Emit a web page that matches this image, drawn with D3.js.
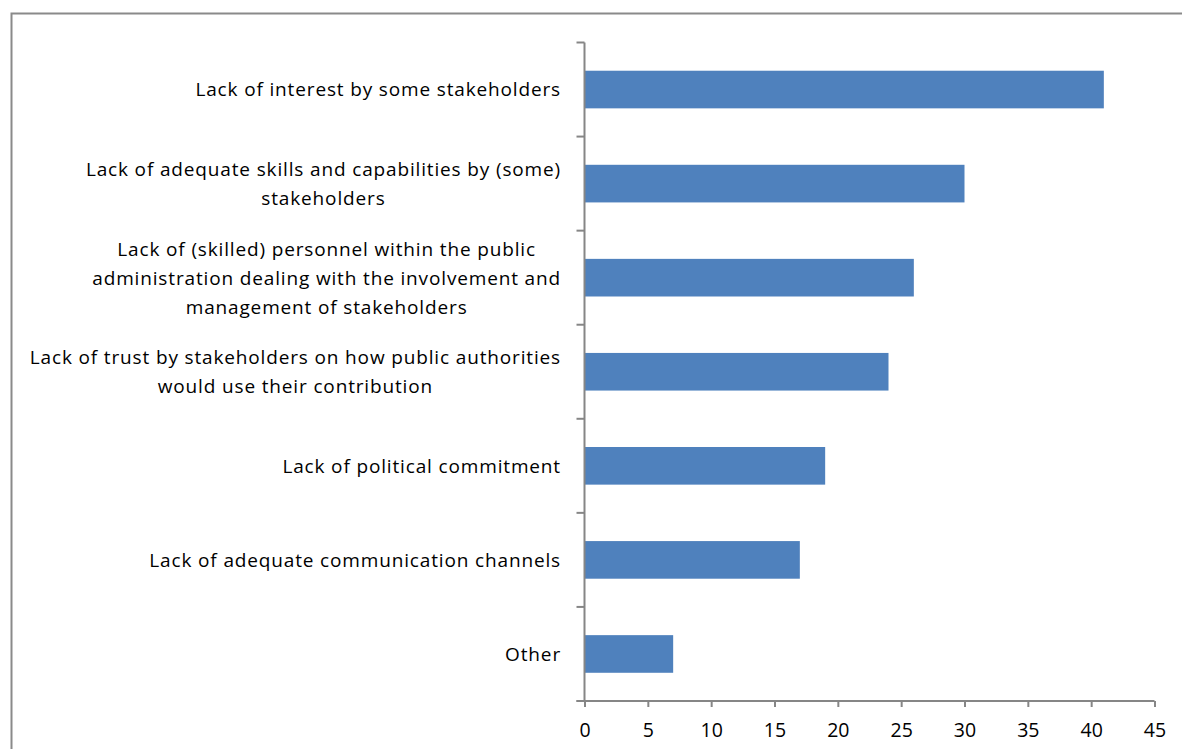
<!DOCTYPE html>
<html>
<head>
<meta charset="utf-8">
<script src="https://cdn.jsdelivr.net/npm/d3@7"></script>
<style>
  html, body { margin: 0; padding: 0; background: #fff; }
  svg { display: block; }
  text { font-family: "Open Sans", "Noto Sans", sans-serif; fill: #000; font-variant-ligatures: none; }
</style>
</head>
<body>
<svg id="chart" width="1182" height="749"></svg>
<script>
// Obstacles to stakeholder involvement (number of responses)
const categories = [
  ["Lack of interest by some stakeholders"],
  ["Lack of adequate skills and capabilities by (some)", "stakeholders"],
  ["Lack of (skilled) personnel within the public", "administration dealing with the involvement and", "management of stakeholders"],
  ["Lack of trust by stakeholders on how public authorities", "would use their contribution"],
  ["Lack of political commitment"],
  ["Lack of adequate communication channels"],
  ["Other"]
];
const values = [41, 30, 26, 24, 19, 17, 7];
const xTicks = [0, 5, 10, 15, 20, 25, 30, 35, 40, 45];

const svg = d3.select("#chart");
const W = 1182, H = 749;
const plot = { left: 584.5, right: 1154.5, top: 42.5, bottom: 701 };
const axisColor = "#868686";
const fontFamily = "'Open Sans', 'Noto Sans', sans-serif";
const fontSize = 19;
const tracking = "0.85px";

// Outer chart frame (runs off the right and bottom edges)
svg.append("rect")
  .attr("x", 11.5).attr("y", 13.5)
  .attr("width", W + 20).attr("height", H + 20)
  .attr("fill", "none")
  .attr("stroke", "#8a8a8a")
  .attr("stroke-width", 2);

const keys = categories.map((c, i) => i);
const y = d3.scaleBand()
  .domain(keys)
  .range([plot.top, plot.bottom])
  .paddingInner(0.6)
  .paddingOuter(0.3);

const x = d3.scaleLinear()
  .domain([0, 45])
  .range([plot.left, plot.right]);

// Bars
svg.append("g").selectAll("rect")
  .data(values)
  .join("rect")
  .attr("x", x(0))
  .attr("y", (d, i) => y(i))
  .attr("width", d => x(d) - x(0))
  .attr("height", y.bandwidth())
  .attr("fill", "#4f81bd");

// X axis
const xAxis = svg.append("g")
  .attr("transform", `translate(0,${plot.bottom})`)
  .call(d3.axisBottom(x).tickValues(xTicks).tickSize(6).tickPadding(16).tickSizeOuter(0));
xAxis.select(".domain").remove();
xAxis.append("line")
  .attr("x1", plot.left - 8).attr("x2", plot.right)
  .attr("y1", 0).attr("y2", 0)
  .attr("stroke", axisColor).attr("stroke-width", 2);
xAxis.selectAll(".tick line").attr("stroke", axisColor).attr("stroke-width", 2);
xAxis.selectAll(".tick text")
  .attr("font-size", 19.5)
  .attr("font-family", fontFamily)
  .attr("fill", "#000");

// Y axis line and category boundary ticks
const yAxis = svg.append("g");
yAxis.append("line")
  .attr("x1", plot.left).attr("x2", plot.left)
  .attr("y1", plot.top).attr("y2", plot.bottom)
  .attr("stroke", axisColor).attr("stroke-width", 2);
const bounds = keys.map(k => y(k) - y.step() * y.paddingOuter())
  .concat([plot.bottom]);
yAxis.selectAll("line.bt")
  .data(bounds)
  .join("line")
  .attr("class", "bt")
  .attr("x1", plot.left - 8).attr("x2", plot.left)
  .attr("y1", d => d).attr("y2", d => d)
  .attr("stroke", axisColor).attr("stroke-width", 2);

// Category labels: multi-line blocks, centred lines, right edge near the axis
const lineH = 29;
const labelRight = 561;
const labels = svg.append("g");
categories.forEach((lines, i) => {
  const cy = y(i) + y.bandwidth() / 2;
  const t = labels.append("text")
    .attr("font-size", fontSize)
    .attr("letter-spacing", tracking)
    .attr("text-anchor", "middle");
  lines.forEach((ln, j) => {
    t.append("tspan").text(ln)
      .attr("y", cy + (j - (lines.length - 1) / 2) * lineH)
      .attr("dy", "0.36em");
  });
  const wmax = d3.max(t.selectAll("tspan").nodes(), n => n.getComputedTextLength());
  t.selectAll("tspan").attr("x", labelRight - wmax / 2);
});
</script>
</body>
</html>
